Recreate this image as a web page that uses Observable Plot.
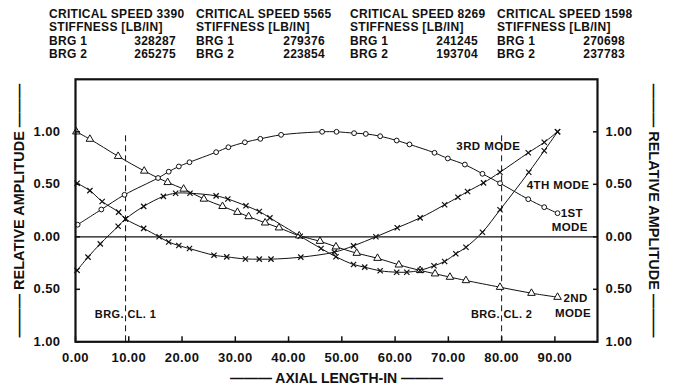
<!DOCTYPE html>
<html><head><meta charset="utf-8">
<script src="https://cdn.jsdelivr.net/npm/d3@7"></script>
<script src="https://cdn.jsdelivr.net/npm/@observablehq/plot@0.6"></script>
<style>
body{margin:0;background:#fff;width:673px;height:389px;overflow:hidden;font-family:"Liberation Sans",Arial,sans-serif;color:#111}
#hdr{position:relative;height:64px}
.blk{position:absolute;top:7.5px;font-size:12px;font-weight:bold;line-height:13.6px;letter-spacing:0.3px;white-space:nowrap}
.row{display:flex;justify-content:space-between}
#chart svg{display:block}
</style></head><body>
<div id="hdr"></div><div id="chart"></div>
<script>
// ---- header data ----
const speeds = [3390, 5565, 8269, 1598];
const brg1Stiff = [328287, 279376, 241245, 270698];
const brg2Stiff = [265275, 223854, 193704, 237783];

// ---- axis ticks ----
const xTicks = [0, 10, 20, 30, 40, 50, 60, 70, 80, 90];
const yTicks = [-1, -0.5, 0, 0.5, 1];

// ---- bearing centre lines ----
const bearings = [9.4, 80.0];
const bearingLabels = ["BRG. CL. 1", "BRG. CL. 2"];
const bearingTop = 0.98;

// ---- mode shapes (axial position, relative amplitude) ----
const mode1X = [0.4, 4.85, 9.2, 15.5, 17.5, 19.4, 21.4, 26.4, 28.7, 31.8, 34.7, 38.6, 46.3, 49.0, 52.3, 54.5, 57.2, 60.3, 62.7, 67.4, 69.9, 73.1, 76.4, 79.7, 85.0, 88.0, 90.5];
const mode1Y = [0.115, 0.26, 0.40, 0.56, 0.62, 0.67, 0.71, 0.806, 0.853, 0.90, 0.933, 0.971, 1.0, 1.0, 0.987, 0.98, 0.958, 0.917, 0.88, 0.80, 0.746, 0.688, 0.60, 0.51, 0.358, 0.282, 0.225];

const mode2X = [0.15, 2.7, 8.0, 12.9, 17.3, 20.3, 24.1, 27.6, 30.4, 32.5, 35.6, 38.2, 42.0, 45.9, 48.9, 52.8, 56.7, 60.7, 64.7, 67.5, 70.3, 73.3, 79.7, 85.6, 90.5];
const mode2Y = [1.0, 0.93, 0.767, 0.627, 0.518, 0.455, 0.36, 0.29, 0.234, 0.193, 0.133, 0.086, 0.01, -0.042, -0.095, -0.156, -0.204, -0.267, -0.32, -0.352, -0.384, -0.416, -0.48, -0.537, -0.575];

const mode3X = [0.3, 2.7, 5.0, 8.1, 9.4, 12.8, 15.7, 17.5, 19.4, 21.4, 26.0, 28.4, 31.9, 34.5, 36.7, 42.3, 48.6, 52.2, 56.4, 60.4, 64.7, 69.3, 71.8, 73.6, 76.6, 79.7, 85.0, 88.0, 90.5];
const mode3Y = [0.51, 0.44, 0.336, 0.235, 0.17, 0.08, 0.0, -0.05, -0.083, -0.112, -0.175, -0.191, -0.211, -0.213, -0.213, -0.194, -0.146, -0.086, 0.0, 0.086, 0.18, 0.305, 0.377, 0.431, 0.514, 0.615, 0.80, 0.90, 1.0];

const mode4X = [0.3, 2.35, 4.65, 8.0, 9.4, 12.8, 16.5, 18.8, 21.5, 26.4, 28.6, 32.0, 34.5, 36.5, 42.2, 46.1, 48.9, 52.2, 54.3, 57.2, 60.3, 62.2, 64.7, 67.3, 69.3, 71.4, 73.3, 76.4, 79.7, 85.1, 88.0, 90.5];
const mode4Y = [-0.32, -0.194, -0.067, 0.10, 0.17, 0.29, 0.385, 0.415, 0.415, 0.39, 0.36, 0.295, 0.241, 0.18, 0.005, -0.111, -0.19, -0.264, -0.289, -0.324, -0.337, -0.337, -0.32, -0.276, -0.235, -0.162, -0.10, 0.044, 0.257, 0.615, 0.82, 1.0];

// ---- mode labels (label, x, y) ----
const modeLabelText = ["3RD MODE", "4TH MODE", "1ST", "MODE", "2ND", "MODE"];
const modeLabelX = [77.5, 90.6, 91.1, 92.8, 91.6, 93.4];
const modeLabelY = [0.86, 0.49, 0.22, 0.089, -0.59, -0.73];
const modeLabelAnchor = ["middle", "middle", "start", "middle", "start", "middle"];

// ---- header ----
const blockLeft = [49, 196, 350, 497];
const blockRight = [176, 325, 478, 625];
const hdr = document.getElementById("hdr");
speeds.forEach((s, i) => {
  const d = document.createElement("div");
  d.className = "blk";
  d.style.left = blockLeft[i] + "px";
  d.style.width = (blockRight[i] - blockLeft[i]) + "px";
  d.innerHTML = `<div>CRITICAL SPEED ${s}</div><div>STIFFNESS [LB/IN]</div>` +
    `<div class="row"><span>BRG 1</span><span>${brg1Stiff[i]}</span></div>` +
    `<div class="row"><span>BRG 2</span><span>${brg2Stiff[i]}</span></div>`;
  hdr.appendChild(d);
});

const mk = (xs, ys) => xs.map((x, i) => ({x, y: ys[i]}));
const m1 = mk(mode1X, mode1Y), m2 = mk(mode2X, mode2Y), m3 = mk(mode3X, mode3Y), m4 = mk(mode4X, mode4Y);
const labels = modeLabelText.map((t, i) => ({t, x: modeLabelX[i], y: modeLabelY[i], a: modeLabelAnchor[i]}));
const ink = "#111";
const lineOpts = {x: "x", y: "y", curve: "catmull-rom", stroke: ink, strokeWidth: 1};

const fmtY = d => Math.abs(d).toFixed(2);
const chart = Plot.plot({
  width: 673, height: 325,
  marginLeft: 75, marginRight: 76, marginTop: 14.8, marginBottom: 47.7,
  x: {domain: [0, 98]},
  y: {domain: [-1, 1.5]},
  style: {fontFamily: "'Liberation Sans', Arial, sans-serif", color: ink, background: "#fff", letterSpacing: "0.4px"},
  marks: [
    Plot.ruleY([0], {stroke: ink, strokeWidth: 1.3}),
    Plot.ruleX(bearings, {y1: -1, y2: bearingTop, stroke: ink, strokeWidth: 1, strokeDasharray: "6,4"}),
    Plot.text(bearings, {x: d => d, y: -0.74, text: (d, i) => bearingLabels[i], fontSize: 11, fontWeight: "bold", fill: ink}),
    Plot.line(m1, lineOpts), Plot.line(m2, lineOpts), Plot.line(m3, lineOpts), Plot.line(m4, lineOpts),
    Plot.dot(m1, {x: "x", y: "y", symbol: "circle", r: 2.4, stroke: ink, fill: "white", strokeWidth: 1}),
    Plot.dot(m2, {x: "x", y: "y", symbol: "triangle", r: 2.8, stroke: ink, fill: "white", strokeWidth: 1}),
    Plot.dot(m3, {x: "x", y: "y", symbol: "times", r: 2.5, stroke: ink, strokeWidth: 1.2}),
    Plot.dot(m4, {x: "x", y: "y", symbol: "times", r: 2.5, stroke: ink, strokeWidth: 1.2}),
    Plot.text(labels.filter(d => d.a === "middle"), {x: "x", y: "y", text: "t", fontSize: 11.5, fontWeight: "bold", fill: ink, textAnchor: "middle"}),
    Plot.text(labels.filter(d => d.a === "start"), {x: "x", y: "y", text: "t", fontSize: 11.5, fontWeight: "bold", fill: ink, textAnchor: "start"}),
    Plot.frame({stroke: ink, strokeWidth: 2.2}),
    Plot.axisY({ticks: yTicks, anchor: "left", tickSize: -5, tickPadding: 20, tickFormat: fmtY, fontSize: 13, fontWeight: "bold", label: null, stroke: ink, strokeWidth: 1.5}),
    Plot.axisY({ticks: yTicks, anchor: "right", tickSize: -5, tickPadding: 13, tickFormat: fmtY, fontSize: 13, fontWeight: "bold", label: null, stroke: ink, strokeWidth: 1.5}),
    Plot.axisX({ticks: xTicks, anchor: "bottom", tickSize: -5, tickPadding: 16, tickFormat: d => d.toFixed(2), fontSize: 13, fontWeight: "bold", label: null, stroke: ink, strokeWidth: 1.5}),
    Plot.text(["——— RELATIVE AMPLITUDE ———"], {frameAnchor: "left", textAnchor: "middle", dx: -56, rotate: -90, fontSize: 14.5, fontWeight: "bold", fill: ink}),
    Plot.text(["——— RELATIVE AMPLITUDE ———"], {frameAnchor: "right", textAnchor: "middle", dx: 56, rotate: 90, fontSize: 14.5, fontWeight: "bold", fill: ink}),
    Plot.text(["——— AXIAL LENGTH-IN ———"], {frameAnchor: "bottom", textAnchor: "middle", dy: 41, fontSize: 14, fontWeight: "bold", fill: ink})
  ]
});
chart.querySelectorAll("text").forEach(t => { if (t.textContent.includes("—")) t.style.letterSpacing = "0"; });
document.getElementById("chart").appendChild(chart);
</script>
</body></html>
